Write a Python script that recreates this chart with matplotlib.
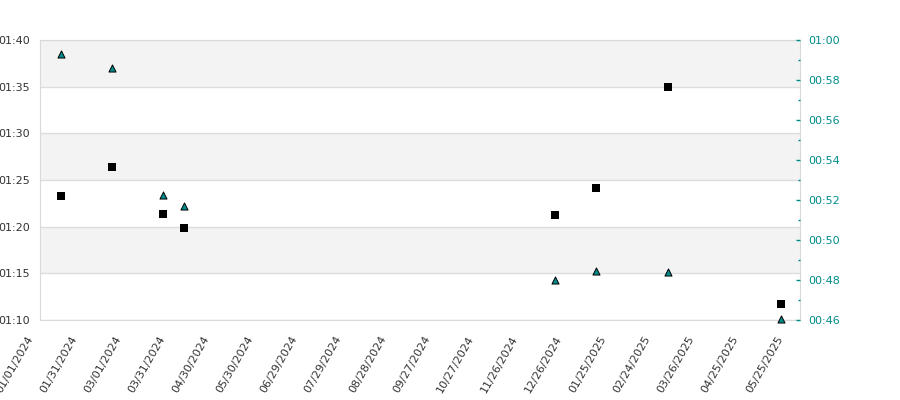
import matplotlib
matplotlib.use("Agg")
import matplotlib.pyplot as plt
import matplotlib.dates as mdates
import matplotlib.transforms as mtransforms
from matplotlib.ticker import FuncFormatter, MultipleLocator
import pandas as pd

# ---- data ----
dates = ["2024-01-15", "2024-02-19", "2024-03-25", "2024-04-08",
         "2024-12-16", "2025-01-13", "2025-03-03", "2025-05-19"]
left_seconds = [83.3, 86.4, 81.4, 79.9, 81.3, 84.1, 95.0, 71.7]     # squares, left axis
right_seconds = [59.3, 58.6, 52.25, 51.7, 48.0, 48.45, 48.4, 46.05]  # triangles, right axis
tick_dates = pd.date_range("2024-01-01", "2025-05-25", freq="30D")
x_range = ["2024-01-01", "2025-06-01"]
left_range = (70, 100)
right_range = (46, 60)

x = pd.to_datetime(dates)

def mmss(v, pos=None):
    v = int(round(v))
    return f"{v // 60:02d}:{v % 60:02d}"

fig = plt.figure(figsize=(9, 4), dpi=100)
ax = fig.add_axes([40 / 900, 80 / 400, 760 / 900, 280 / 400])
ax2 = ax.twinx()

label_gray = "#333333"
teal = "#008b8b"
spine_col = "#d9d9d9"

# background bands and grid
ax.set_ylim(*left_range)
for lo in range(left_range[0], left_range[1], 5):
    if (lo // 5) % 2 == 1:
        ax.axhspan(lo, lo + 5, color="#f3f3f3", zorder=0, lw=0)
ax.yaxis.set_major_locator(MultipleLocator(5))
ax.yaxis.set_major_formatter(FuncFormatter(mmss))
ax.grid(axis="y", color="#dddddd", lw=1, zorder=0.5)
ax.set_axisbelow(True)

ax.scatter(x, left_seconds, marker="s", s=28, color="black", zorder=3, lw=0)

ax.set_xlim(pd.Timestamp(x_range[0]), pd.Timestamp(x_range[1]))
ax.set_xticks(tick_dates)
ax.xaxis.set_major_formatter(mdates.DateFormatter("%m/%d/%Y"))
ax.tick_params(axis="x", length=0, pad=6, labelsize=8, colors=label_gray)
shift = mtransforms.ScaledTranslation(-5 / 100, -6 / 100, fig.dpi_scale_trans)
for lbl in ax.get_xticklabels():
    lbl.set_rotation(60)
    lbl.set_ha("right")
    lbl.set_transform(lbl.get_transform() + shift)
ax.tick_params(axis="y", length=0, pad=7, labelsize=8, colors=label_gray)

for side in ["left", "bottom", "right", "top"]:
    ax.spines[side].set_color(spine_col)
for side in ["left", "bottom", "right", "top"]:
    ax2.spines[side].set_visible(False)

ax2.set_ylim(*right_range)
ax2.yaxis.set_major_locator(MultipleLocator(2))
ax2.yaxis.set_minor_locator(MultipleLocator(1))
ax2.yaxis.set_major_formatter(FuncFormatter(mmss))
ax2.tick_params(axis="y", which="major", direction="in", length=3, width=1,
                color=teal, labelcolor=teal, labelsize=8, pad=6)
ax2.tick_params(axis="y", which="minor", direction="in", length=1.6, width=1,
                color=teal)
ax2.scatter(x, right_seconds, marker="^", s=26, facecolor=teal,
            edgecolor="black", linewidths=0.7, zorder=4, clip_on=False)

fig.savefig("out.png", dpi=100, facecolor="white")
